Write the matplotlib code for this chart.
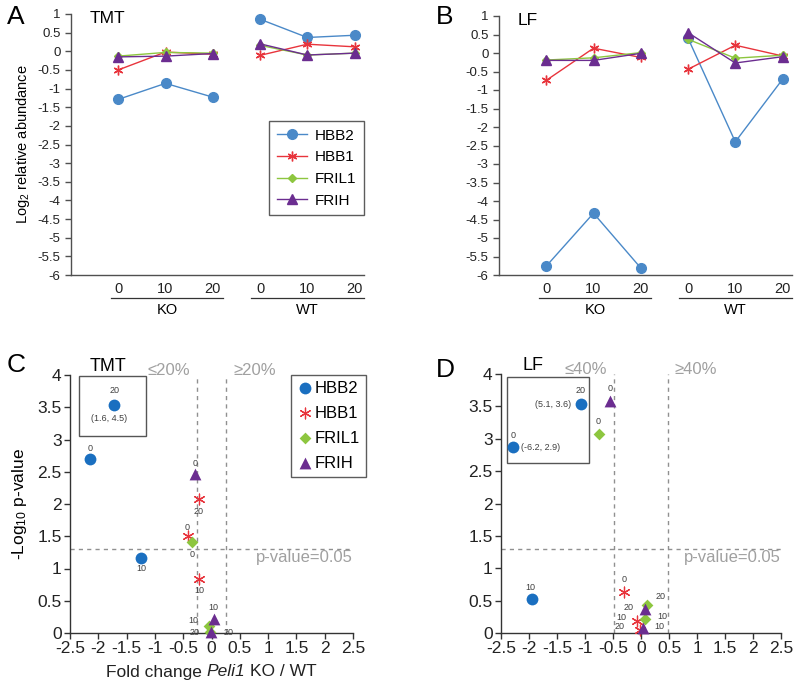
import matplotlib
matplotlib.use('Agg')
import matplotlib.pyplot as plt
import matplotlib.transforms as mtransforms
from matplotlib.patches import Rectangle
from matplotlib.offsetbox import TextArea, HPacker, AnchoredOffsetbox

plt.rcParams['font.family'] = ['Liberation Sans', 'DejaVu Sans']
plt.rcParams['mathtext.fontset'] = 'custom'
plt.rcParams['mathtext.rm'] = 'Liberation Sans'
plt.rcParams['mathtext.it'] = 'Liberation Sans:italic'

proteins = ['HBB2', 'HBB1', 'FRIL1', 'FRIH']
groups = ['KO', 'WT']
times = ['0', '10', '20']

# log2 relative abundance: KO 0/10/20 then WT 0/10/20
tmt_hbb2 = [-1.29, -0.86, -1.23, 0.86, 0.37, 0.43]
tmt_hbb1 = [-0.50, -0.02, -0.08, -0.11, 0.19, 0.12]
tmt_fril1 = [-0.13, -0.03, -0.05, 0.16, -0.10, -0.05]
tmt_frih = [-0.15, -0.13, -0.06, 0.20, -0.10, -0.05]

lf_hbb2 = [-5.76, -4.33, -5.81, 0.40, -2.40, -0.71]
lf_hbb1 = [-0.74, 0.13, -0.12, -0.44, 0.21, -0.08]
lf_fril1 = [-0.19, -0.13, 0.01, 0.37, -0.14, -0.06]
lf_frih = [-0.20, -0.20, -0.01, 0.55, -0.27, -0.10]

# volcano: fold change / -log10 p, time points 0, 10, 20
tmt_hbb2_fc = [-2.14, -1.24, -1.72]
tmt_hbb2_p = [2.69, 1.17, 3.53]
tmt_hbb1_fc = [-0.41, -0.22, -0.22]
tmt_hbb1_p = [1.50, 0.83, 2.07]
tmt_fril1_fc = [-0.35, -0.05, -0.02]
tmt_fril1_p = [1.41, 0.11, 0.01]
tmt_frih_fc = [-0.29, 0.05, -0.01]
tmt_frih_p = [2.46, 0.22, 0.01]

lf_hbb2_fc = [-2.29, -1.95, -1.08]
lf_hbb2_p = [2.87, 0.52, 3.53]
lf_hbb1_fc = [-0.31, -0.07, -0.01]
lf_hbb1_p = [0.64, 0.18, 0.05]
lf_fril1_fc = [-0.75, 0.08, 0.10]
lf_fril1_p = [3.08, 0.21, 0.44]
lf_frih_fc = [-0.55, 0.04, 0.08]
lf_frih_p = [3.59, 0.08, 0.37]

# off-scale HBB2 points shown inside the inset box (true values)
tmt_offscale = {2: '(1.6, 4.5)'}
lf_offscale = {0: '(-6.2, 2.9)', 2: '(5.1, 3.6)'}

colors = ['#4a89c8', '#e8343c', '#8dc63f', '#6b2d90']
vcolors = ['#1a6fc0', '#e8343c', '#8dc63f', '#6b2d90']
markers = ['o', (6, 2, 0), 'D', '^']
msizes = [7, 7, 4.5, 7]
axcol = '#505050'

W, H = 800, 687
fig = plt.figure(figsize=(8, 6.87), dpi=100)


def rect(l, t, r, b):
    return [l / W, 1 - b / H, (r - l) / W, (b - t) / H]


def style(ax):
    for s in ['top', 'right']:
        ax.spines[s].set_visible(False)
    for s in ['left', 'bottom']:
        ax.spines[s].set_color(axcol)
        ax.spines[s].set_linewidth(1)
    ax.tick_params(colors=axcol, labelcolor='#222222', direction='out', length=4, width=1)


def line_panel(ax, series, title, ylabel=False):
    style(ax)
    xs = list(range(1, 7))
    for i, ys in enumerate(series):
        kw = dict(color=colors[i], lw=1, marker=markers[i], ms=msizes[i],
                  mfc=colors[i], mec=colors[i], mew=1.0, clip_on=False)
        ax.plot(xs[:3], ys[:3], label=proteins[i], **kw)
        ax.plot(xs[3:], ys[3:], **kw)
    ax.set_xlim(0, 6.2)
    ax.set_ylim(-6, 1)
    yt = [v / 2 for v in range(-12, 3)]
    ax.set_yticks(yt)
    ax.set_yticklabels(['%g' % v for v in yt], fontsize=9.5)
    ax.set_xticks(xs)
    ax.set_xticklabels(times * 2, fontsize=10.5)
    ax.tick_params(axis='x', length=0, pad=5)
    tr = mtransforms.blended_transform_factory(ax.transData, ax.transAxes)
    for g, (a, b) in enumerate([(0.85, 3.22), (3.81, 6.2)]):
        ax.plot([a, b], [-0.088, -0.088], color='#333333', lw=0.9, transform=tr, clip_on=False)
        ax.text((a + b) / 2, -0.135, groups[g], transform=tr, ha='center', va='center', fontsize=10.5)
    ax.text(0.4, 0.88, title, ha='left', va='center', fontsize=12.5)
    if ylabel:
        ax.set_ylabel('Log$_2$ relative abundance', fontsize=10.5, labelpad=4)


def volcano(ax, fcs, ps, offsets, thr, pct, offscale, box, title, title_x):
    style(ax)
    ax.tick_params(axis='both', labelsize=12.5, color='#333333', pad=2)
    ax.spines['left'].set_color('#333333')
    ax.spines['bottom'].set_color('#333333')
    ax.set_xlim(-2.5, 2.5)
    ax.set_ylim(0, 4)
    xt = [v / 2 for v in range(-5, 6)]
    ax.set_xticks(xt)
    ax.set_xticklabels(['%g' % v for v in xt])
    yt = [v / 2 for v in range(0, 9)]
    ax.set_yticks(yt)
    ax.set_yticklabels(['%g' % v for v in yt])
    dash = dict(color='#909090', lw=1, ls=(0, (3, 3)), zorder=1)
    ax.axvline(-thr, **dash)
    ax.axvline(thr, **dash)
    ax.axhline(1.301, **dash)
    ax.text(-thr - 0.5, 4.07, '\u2264' + pct, color='#a0a0a0', fontsize=12, ha='center', va='center')
    ax.text(thr + 0.5, 4.07, '\u2265' + pct, color='#a0a0a0', fontsize=12, ha='center', va='center')
    ax.text(2.5, 1.17, 'p-value=0.05', color='#a0a0a0', fontsize=12, ha='right', va='center')
    ax.add_patch(Rectangle((box[0], box[1]), box[2], box[3], fill=False, ec='#555555', lw=1, zorder=2))
    ax.text(title_x, 4.13, title, fontsize=13, ha='center', va='center')
    for i in range(4):
        ax.scatter(fcs[i], ps[i], marker=markers[i], s=(msizes[i] + 1.5) ** 2 if i != 1 else 60,
                   color=vcolors[i], linewidths=0.9 if i == 1 else 0, label=proteins[i],
                   zorder=4, clip_on=False)
        for j in range(3):
            dx, dy = offsets[i][j]
            ha = 'center' if abs(dx) < 4 else ('left' if dx > 0 else 'right')
            ax.annotate(times[j], (fcs[i][j], ps[i][j]), xytext=(dx, dy), textcoords='offset pixels',
                        ha=ha, va='center', fontsize=6.5, color='#404040', zorder=5)
    for j, (txt, dx, dy, ha) in offscale.items():
        ax.annotate(txt, (fcs[0][j], ps[0][j]), xytext=(dx, dy), textcoords='offset pixels',
                    ha=ha, va='center', fontsize=6.5, color='#404040')


axA = fig.add_axes(rect(71, 14, 364, 275))
line_panel(axA, [tmt_hbb2, tmt_hbb1, tmt_fril1, tmt_frih], 'TMT', ylabel=True)
leg = axA.legend(loc='upper right', bbox_to_anchor=(1.0, 0.59), borderaxespad=0, fontsize=11,
                 frameon=True, fancybox=False, edgecolor='#333333', handlelength=2.0,
                 labelspacing=0.5, borderpad=0.5, handletextpad=0.5)
leg.get_frame().set_linewidth(1)

axB = fig.add_axes(rect(499, 16, 792, 275))
line_panel(axB, [lf_hbb2, lf_hbb1, lf_fril1, lf_frih], 'LF')

off_c = [[(0, 11), (0, -11), (0, 15)],
         [(-1, 9), (0, -11), (0, -12)],
         [(0, -12), (-10, 5), (-11, 0)],
         [(0, 11), (-1, 11), (13, 0)]]
axC = fig.add_axes(rect(70, 375, 353, 633))
volcano(axC, [tmt_hbb2_fc, tmt_hbb1_fc, tmt_fril1_fc, tmt_frih_fc],
        [tmt_hbb2_p, tmt_hbb1_p, tmt_fril1_p, tmt_frih_p], off_c, 0.263, '20%',
        {j: (t, -5, -13, 'center') for j, t in tmt_offscale.items()},
        (-2.34, 3.06, 1.19, 0.93), 'TMT', -1.82)
axC.set_ylabel('-Log$_{10}$ p-value', fontsize=12.5, labelpad=6)
legC = axC.legend(loc='upper right', bbox_to_anchor=(1.045, 1.0), borderaxespad=0, fontsize=12,
                  frameon=True, fancybox=False, edgecolor='#333333', handlelength=0.9,
                  labelspacing=0.6, borderpad=0.35, handletextpad=0.15, scatterpoints=1)
legC.get_frame().set_linewidth(1)

# x label with italic gene name
xl_parts = [TextArea('Fold change', textprops=dict(fontsize=12.5, color='#222222')),
            TextArea('Peli1', textprops=dict(fontsize=12.5, style='italic', color='#222222')),
            TextArea('KO / WT', textprops=dict(fontsize=12.5, color='#222222'))]
xl_box = HPacker(children=xl_parts, align='baseline', pad=0, sep=3.5)
fig.add_artist(AnchoredOffsetbox(loc='center', child=xl_box, pad=0, borderpad=0, frameon=False,
                                 bbox_to_anchor=(211 / W, 1 - 672 / H),
                                 bbox_transform=fig.transFigure))

off_d = [[(0, 12), (-1, 12), (0, 14)],
         [(0, 12), (-11, 4), (-16, 3)],
         [(-1, 12), (12, 3), (9, 8)],
         [(0, 12), (11, 1), (-12, 2)]]
axD = fig.add_axes(rect(501, 374, 781, 633))
off_d_txt = {0: (lf_offscale[0], 8, 0, 'left'), 2: (lf_offscale[2], -9, 0, 'right')}
volcano(axD, [lf_hbb2_fc, lf_hbb1_fc, lf_fril1_fc, lf_frih_fc],
        [lf_hbb2_p, lf_hbb1_p, lf_fril1_p, lf_frih_p], off_d, 0.485, '40%',
        off_d_txt, (-2.40, 2.63, 1.47, 1.32), 'LF', -1.92)

for letter, x, y in [('A', 16, 17), ('B', 445, 17), ('C', 16, 365), ('D', 445, 370)]:
    fig.text(x / W, 1 - y / H, letter, fontsize=19, ha='center', va='center')

fig.savefig('out.png', dpi=100)
